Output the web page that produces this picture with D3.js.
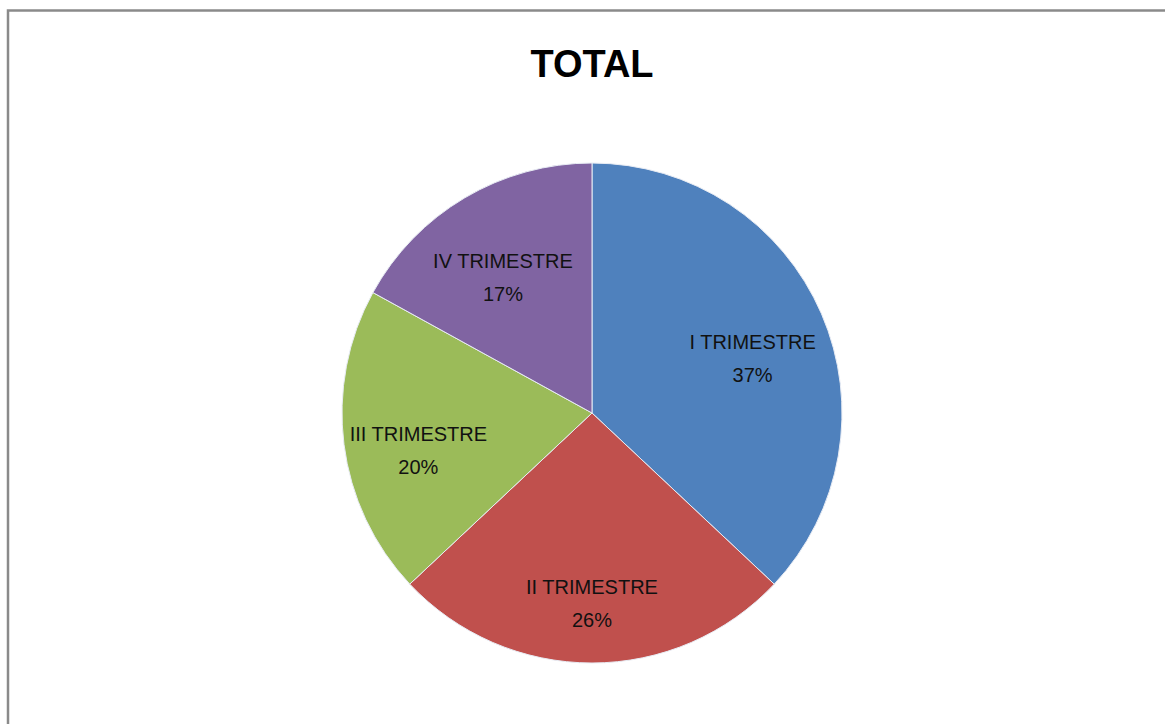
<!DOCTYPE html>
<html>
<head>
<meta charset="utf-8">
<script src="https://cdn.jsdelivr.net/npm/d3@7"></script>
<style>
  body { margin: 0; background: #fff; }
  svg { display: block; }
</style>
</head>
<body>
<div id="chart"></div>
<script>
var categories = ["I TRIMESTRE", "II TRIMESTRE", "III TRIMESTRE", "IV TRIMESTRE"];
var values = [37, 26, 20, 17];
var colors = ["#4F81BD", "#C0504D", "#9BBB59", "#8064A2"];
var title = "TOTAL";

var width = 1165;
var height = 724;
var radius = 250;
var cx = 592, cy = 413;

var svg = d3.select("#chart")
    .append("svg")
    .attr("width", width)
    .attr("height", height);

// chart frame, runs off the right and bottom of the picture
svg.append("rect")
    .attr("x", 8)
    .attr("y", 10.5)
    .attr("width", width + 20)
    .attr("height", height + 20)
    .attr("fill", "#fff")
    .attr("stroke", "#8a8a8a")
    .attr("stroke-width", 2.5);

svg.append("text")
    .attr("x", 592)
    .attr("y", 77)
    .attr("text-anchor", "middle")
    .attr("font-family", "Liberation Sans, Arial, sans-serif")
    .attr("font-weight", "bold")
    .attr("font-size", 38)
    .attr("fill", "#000")
    .text(title);

var pie = d3.pie().sort(null).value(function (d) { return d; });
var arcs = pie(values);

var arc = d3.arc().innerRadius(0).outerRadius(radius);
var labelArc = d3.arc().innerRadius(radius * 0.7).outerRadius(radius * 0.7);

var g = svg.append("g").attr("transform", "translate(" + cx + "," + cy + ")");

g.selectAll("path.slice")
    .data(arcs)
    .enter()
    .append("path")
    .attr("class", "slice")
    .attr("d", arc)
    .attr("fill", function (d, i) { return colors[i]; })
    .attr("stroke", "#e8ecf4")
    .attr("stroke-width", 1);

var labels = g.selectAll("text.lbl")
    .data(arcs)
    .enter()
    .append("text")
    .attr("class", "lbl")
    .attr("transform", function (d) { return "translate(" + labelArc.centroid(d) + ")"; })
    .attr("text-anchor", "middle")
    .attr("font-family", "Liberation Sans, Arial, sans-serif")
    .attr("font-size", 20)
    .attr("fill", "#111");

// two lines, nudged down a little like the Excel labels
labels.append("tspan")
    .attr("x", 0)
    .attr("y", 6)
    .text(function (d, i) { return categories[i]; });

labels.append("tspan")
    .attr("x", 0)
    .attr("y", 39)
    .text(function (d) { return d.data + "%"; });
</script>
</body>
</html>
